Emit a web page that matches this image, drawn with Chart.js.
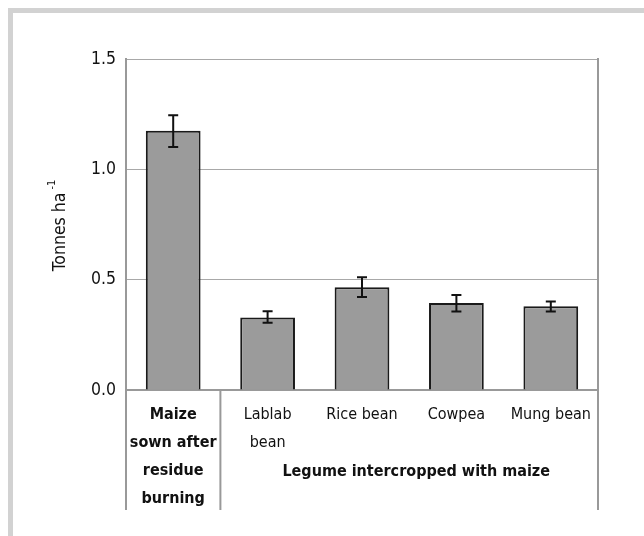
<!DOCTYPE html>
<html>
<head>
<meta charset="utf-8">
<script src="https://cdn.jsdelivr.net/npm/chart.js@4.4.1/dist/chart.umd.min.js"></script>
<style>
  body { margin: 0; background: #fff; }
  #wrap { position: relative; width: 644px; height: 536px; overflow: hidden; }
  #frame { position: absolute; left: 8px; top: 8px; width: 640px; height: 600px;
           border-left: 5px solid #d2d2d2; border-top: 5px solid #d2d2d2; border-right: 1px solid #ececec;
           pointer-events: none; }
</style>
</head>
<body>
<div id="wrap">
  <canvas id="chart" width="644" height="536"></canvas>
  <div id="frame"></div>
</div>
<script>
// Werte
let categories = [
  ['Maize', 'sown after', 'residue', 'burning'],
  ['Lablab', 'bean'],
  'Rice bean',
  'Cowpea',
  'Mung bean'
];
let yieldValues = [1.175, 0.328, 0.466, 0.394, 0.380];
let errLow = [1.101, 0.305, 0.421, 0.356, 0.356];
let errHigh = [1.245, 0.357, 0.511, 0.430, 0.401];
let yTicks = [0, 0.5, 1.0, 1.5];
let groupLabel = 'Legume intercropped with maize';
let yTitle = 'Tonnes ha';
let yTitleSup = '-1';

const fontFam = '"DejaVu Sans Condensed", "Liberation Sans Narrow", sans-serif';
const fontSize = 16;
const axisFontSize = 17.5;

// Fehlerbalken zeichnen
const errorBars = {
  id: 'errorBars',
  afterDatasetsDraw(chart) {
    let ctx = chart.ctx;
    let x = chart.scales.x, y = chart.scales.y;
    ctx.save();
    ctx.strokeStyle = '#111';
    ctx.lineWidth = 2;
    for (let i = 0; i < yieldValues.length; i++) {
      let px = x.getPixelForValue(i);
      let top = y.getPixelForValue(errHigh[i]);
      let bot = y.getPixelForValue(errLow[i]);
      ctx.beginPath();
      ctx.moveTo(px, top); ctx.lineTo(px, bot);
      ctx.moveTo(px - 5, top); ctx.lineTo(px + 5, top);
      ctx.moveTo(px - 5, bot); ctx.lineTo(px + 5, bot);
      ctx.stroke();
    }
    ctx.restore();
  }
};

// Tabellenlinien unter der Achse, Gruppentitel und Y-Titel
const extras = {
  id: 'extras',
  afterDraw(chart) {
    let ctx = chart.ctx;
    let area = chart.chartArea;
    let x = chart.scales.x;
    let half = (x.getPixelForValue(1) - x.getPixelForValue(0)) / 2;
    let divider = x.getPixelForValue(0) + half;
    let lineBottom = 510;
    ctx.save();
    ctx.strokeStyle = '#999';
    ctx.lineWidth = 2;
    ctx.beginPath();
    ctx.moveTo(area.left, area.bottom); ctx.lineTo(area.left, lineBottom);
    ctx.moveTo(divider, area.bottom); ctx.lineTo(divider, lineBottom);
    ctx.moveTo(area.right, area.top - 1); ctx.lineTo(area.right, lineBottom);
    ctx.stroke();

    ctx.fillStyle = '#111';
    ctx.font = 'bold ' + fontSize + 'px ' + fontFam;
    ctx.textAlign = 'center';
    ctx.textBaseline = 'middle';
    ctx.fillText(groupLabel, (divider + area.right) / 2 + 7, 472);

    // Y-Achsentitel mit Hochzahl
    ctx.translate(60, (area.top + area.bottom) / 2);
    ctx.rotate(-Math.PI / 2);
    ctx.font = axisFontSize + 'px ' + fontFam;
    let w1 = ctx.measureText(yTitle + ' ').width;
    ctx.font = '11px ' + fontFam;
    let w2 = ctx.measureText(yTitleSup).width;
    let start = -(w1 + w2) / 2;
    ctx.textAlign = 'left';
    ctx.font = axisFontSize + 'px ' + fontFam;
    ctx.fillText(yTitle, start, 0);
    ctx.font = '11px ' + fontFam;
    ctx.fillText(yTitleSup, start + w1 - 2, -8);
    ctx.restore();
  }
};

const config = {
  type: 'bar',
  data: {
    labels: categories,
    datasets: [{
      data: yieldValues,
      backgroundColor: '#9b9b9b',
      borderColor: '#1a1a1a',
      borderWidth: 2,
      borderSkipped: 'bottom',
      categoryPercentage: 1,
      barPercentage: 0.58
    }]
  },
  options: {
    responsive: false,
    animation: false,
    layout: { padding: { top: 59, right: 46, left: 0, bottom: 0 } },
    plugins: {
      legend: { display: false },
      tooltip: { enabled: false }
    },
    scales: {
      x: {
        grid: { display: false, drawTicks: false },
        border: { color: '#999', width: 2 },
        ticks: {
          color: '#111',
          autoSkip: false,
          maxRotation: 0,
          padding: 11,
          font: (c) => ({ family: fontFam, size: fontSize, lineHeight: 1.74, weight: c.index === 0 ? 'bold' : 'normal' })
        },
        afterFit: (s) => { s.height = 536 - 390; }
      },
      y: {
        min: 0,
        max: 1.5,
        afterBuildTicks: (s) => { s.ticks = yTicks.map(v => ({ value: v })); },
        grid: { color: '#a8a8a8', lineWidth: 1, drawTicks: false },
        border: { color: '#999', width: 2 },
        ticks: {
          color: '#111',
          padding: 10,
          font: { family: fontFam, size: axisFontSize },
          callback: (v) => Number(v).toFixed(1)
        },
        afterFit: (s) => { s.width = 126; }
      }
    }
  },
  plugins: [errorBars, extras]
};

new Chart(document.getElementById('chart'), config);
</script>
</body>
</html>
